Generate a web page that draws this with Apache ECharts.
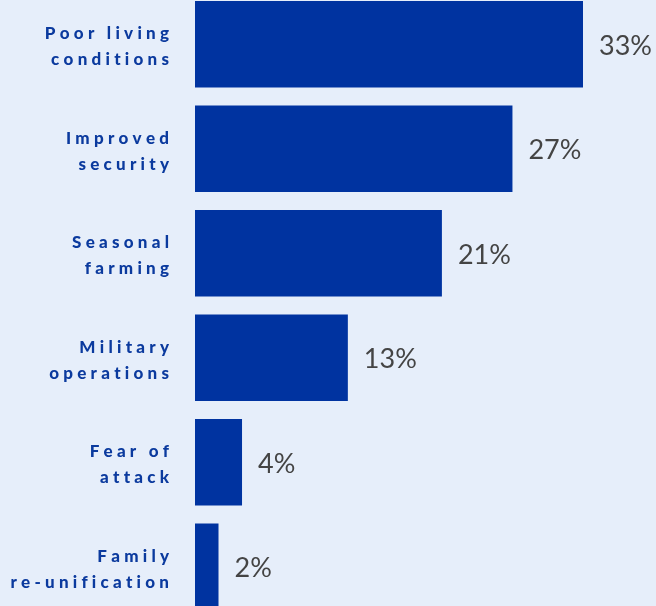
<!DOCTYPE html>
<html>
<head>
<meta charset="utf-8">
<script src="https://cdn.jsdelivr.net/npm/echarts@6/dist/echarts.min.js"></script>
<style>
html,body{margin:0;padding:0;background:#E6EEFA;overflow:hidden;}
#c{width:656px;height:627px;margin-top:-8px;}
</style>
</head>
<body>
<div id="c"></div>
<script>
const categories = ["Poor living\nconditions", "Improved\nsecurity", "Seasonal\nfarming", "Military\noperations", "Fear of\nattack", "Family\nre-unification"];
const values = [33, 27, 21, 13, 4, 2];

function spaced(s) {
  return '{s| }\n' + s.split('\n').map(line =>
    '{a|' + line.split(' ').map(w => w.split('').join('\u2005')).join('\u2005 \u2005') + '}'
  ).join('\n');
}

const labelFont = { color: '#0B3A9E', fontFamily: 'Lato', fontWeight: 900, fontSize: 17, lineHeight: 26, align: 'right' };

const chart = echarts.init(document.getElementById('c'));
chart.setOption({
  backgroundColor: '#E6EEFA',
  animation: false,
  grid: { left: 195, right: 73, top: 0, bottom: 0, containLabel: false },
  xAxis: { type: 'value', min: 0, max: 33, show: false },
  yAxis: {
    type: 'category',
    inverse: true,
    data: categories,
    axisLine: { show: false },
    axisTick: { show: false },
    axisLabel: Object.assign({
      margin: 26,
      formatter: v => spaced(v),
      rich: {
        a: labelFont,
        s: { fontSize: 1, lineHeight: 5 }
      }
    }, labelFont)
  },
  series: [{
    type: 'bar',
    data: values,
    barCategoryGap: '17%',
    itemStyle: { color: '#0033A0' },
    label: {
      show: true,
      position: 'right',
      distance: 16,
      offset: [0, 2],
      formatter: p => p.value + '%',
      color: '#444444',
      fontFamily: 'Lato',
      fontWeight: 'normal',
      fontSize: 27
    }
  }]
});
</script>
</body>
</html>
